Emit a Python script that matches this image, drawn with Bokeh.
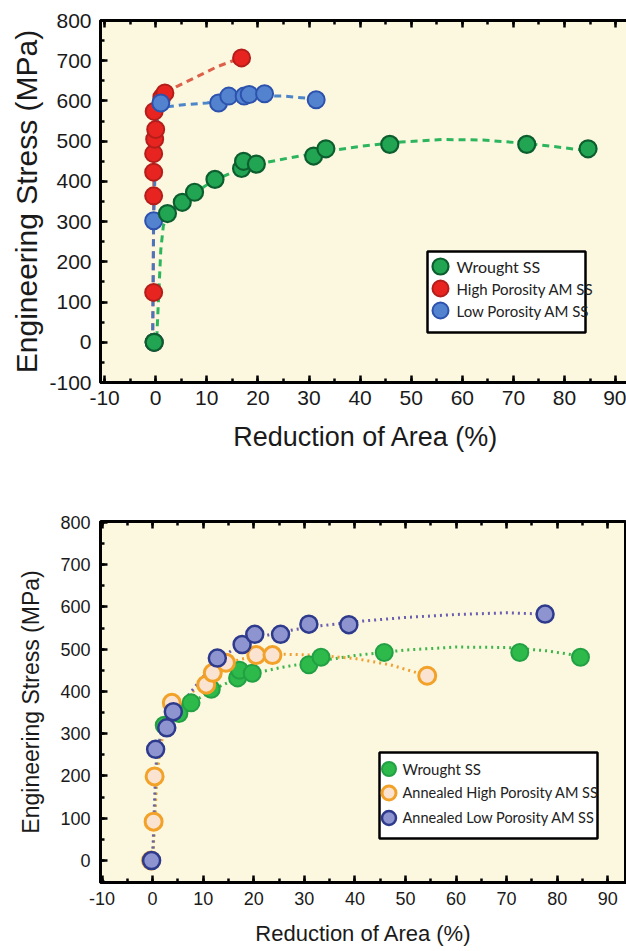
from bokeh.plotting import figure
from bokeh.models import (Range1d, SingleIntervalTicker, LinearAxis, Legend, LegendItem,
                          BoxAnnotation, Column, Label, NumeralTickFormatter)
from bokeh.embed import file_html
from bokeh.resources import INLINE

# ---------------- data ----------------
# Wrought SS (same specimens in both panels)
wrought_x = [-0.3, 2.3, 5.2, 7.6, 11.6, 16.8, 17.2, 19.7, 30.9, 33.3, 45.8, 72.6, 84.6]
wrought_y = [0, 320, 348, 373, 405, 432, 450, 443, 463, 481, 492, 492, 481]

# Top panel: as-built AM
high_x = [-0.3, -0.4, -0.4, -0.4, -0.4, -0.2, 0.0, -0.3, 1.2, 1.8, 16.8]
high_y = [0, 124, 364, 423, 469, 505, 529, 574, 609, 620, 707]
low_x = [-0.3, -0.4, 1.0, 12.3, 14.3, 17.3, 18.3, 21.3, 31.4]
low_y = [0, 302, 595, 595, 612, 612, 616, 618, 603]

# Top panel trend curves
wrought_fit_top_x = [0.2, 0.6, 1.0, 1.5, 2.3, 4, 7, 11, 16, 20, 26, 33, 40, 48, 56, 64, 72, 79, 85]
wrought_fit_top_y = [10, 120, 230, 290, 318, 338, 365, 400, 428, 443, 458, 474, 487, 498, 504, 503, 495, 485, 475]
high_fit_x = [-0.6, -0.5, -0.4, -0.3, 0.0, 0.7, 1.8, 4, 8, 12, 16.8]
high_fit_y = [0, 130, 360, 520, 570, 600, 618, 635, 660, 685, 708]
low_fit_x = [-0.6, -0.4, 0.0, 0.4, 1.0, 2.0, 5, 10, 15, 20, 25, 31.4]
low_fit_y = [0, 300, 480, 560, 578, 585, 590, 595, 605, 612, 612, 605]

# Bottom panel: annealed AM
ann_high_x = [-0.3, 0.2, 0.4, 3.8, 10.6, 11.9, 14.5, 20.5, 23.7, 54.3]
ann_high_y = [0, 92, 199, 373, 416, 444, 468, 486, 486, 437]
ann_low_x = [-0.2, 0.6, 2.8, 4.1, 12.8, 17.7, 20.2, 25.3, 30.9, 38.8, 77.6]
ann_low_y = [0, 263, 314, 352, 479, 511, 535, 535, 559, 558, 583]

# Bottom panel trend curves
wrought_fit_bot_x = [0, 0.4, 0.8, 1.5, 2.5, 5, 8, 12, 16, 20, 26, 33, 40, 50, 60, 70, 78, 85]
wrought_fit_bot_y = [0, 100, 220, 290, 322, 350, 375, 405, 427, 443, 458, 472, 485, 498, 505, 504, 496, 483]
ann_high_fit_x = [0, 0.4, 0.8, 1.5, 3, 5, 8, 11, 14, 17, 21, 26, 32, 40, 47, 54.3]
ann_high_fit_y = [0, 90, 190, 270, 335, 370, 400, 430, 458, 475, 485, 488, 486, 478, 463, 437]
ann_low_fit_x = [0, 0.4, 0.8, 1.5, 3, 4.5, 7, 10, 13, 16, 20, 25, 31, 40, 50, 60, 70, 77.6]
ann_low_fit_y = [0, 150, 250, 290, 318, 348, 390, 435, 475, 500, 525, 540, 552, 565, 575, 582, 586, 583]

labels_top = ["Wrought SS", "High Porosity AM SS", "Low Porosity AM SS"]
labels_bot = ["Wrought SS", "Annealed High Porosity AM SS", "Annealed Low Porosity AM SS"]

BG = "#FCF8E0"
FONT = "Liberation Sans"
LFONT = "Lato"


def style(p, tick_size, xtitle_size, ytitle_size, xstand, ystand, xlstand, ylstand):
    p.background_fill_color = BG
    p.border_fill_color = "white"
    p.outline_line_color = "black"
    p.outline_line_width = 3
    p.grid.visible = False
    for ax in (p.xaxis[0], p.yaxis[0]):
        ax.axis_line_width = 3
        ax.axis_line_color = "black"
        ax.major_tick_in = 7
        ax.major_tick_out = 0
        ax.minor_tick_in = 4
        ax.minor_tick_out = 0
        ax.major_tick_line_width = 2.5
        ax.minor_tick_line_width = 2.5
        ax.major_label_text_font = FONT
        ax.major_label_text_font_size = tick_size
        ax.major_label_text_color = "#1a1a1a"
        ax.axis_label_text_font = FONT
        ax.axis_label_text_font_style = "normal"
        ax.axis_label_text_color = "#1a1a1a"
        ax.formatter = NumeralTickFormatter(format="0")
    p.xaxis[0].axis_label_text_font_size = xtitle_size
    p.yaxis[0].axis_label_text_font_size = ytitle_size
    p.xaxis[0].major_label_standoff = xstand
    p.yaxis[0].major_label_standoff = ystand
    p.xaxis[0].axis_label_standoff = xlstand
    p.yaxis[0].axis_label_standoff = ylstand
    p.xaxis[0].ticker = SingleIntervalTicker(interval=10, num_minor_ticks=2)
    p.yaxis[0].ticker = SingleIntervalTicker(interval=100, num_minor_ticks=2)
    top = LinearAxis(ticker=SingleIntervalTicker(interval=10, num_minor_ticks=2),
                     major_label_text_color=None, major_label_text_font_size="1px",
                     axis_line_color=None,
                     major_tick_in=7, major_tick_out=0, minor_tick_in=4, minor_tick_out=0,
                     major_tick_line_width=2.5, minor_tick_line_width=2.5,
                     major_label_standoff=0)
    p.add_layout(top, "above")


def add_legend(p, renderers, labels, frame_left, frame_bottom, box, circle_x, rows, text_x,
               g, sizes):
    l, r, t, b = box
    p.add_layout(BoxAnnotation(left=l - frame_left, right=r - frame_left,
                               bottom=frame_bottom - b, top=frame_bottom - t,
                               left_units="screen", right_units="screen",
                               bottom_units="screen", top_units="screen",
                               fill_color="white", fill_alpha=1.0,
                               line_color="black", line_alpha=1.0, line_width=2.5,
                               level="annotation"))
    for rr, lab, row, fs in zip(renderers, labels, rows, sizes):
        leg = Legend(items=[LegendItem(label=" ", renderers=[rr])],
                     location=(circle_x - g / 2 - frame_left, frame_bottom - (row + g / 2)),
                     glyph_width=g, glyph_height=g, padding=0, margin=0, spacing=0,
                     label_standoff=0, label_text_font_size="1px",
                     label_text_color=None,
                     background_fill_alpha=0, border_line_color=None)
        p.add_layout(leg, "center")
        p.add_layout(Label(x=text_x - frame_left, y=frame_bottom - row,
                           x_units="screen", y_units="screen", text=lab,
                           text_baseline="middle", text_align="left",
                           text_font=LFONT, text_font_size=fs, text_color="#222222"))


# ---------------- top panel ----------------
p1 = figure(frame_width=531, frame_height=362, min_border_left=95, min_border_right=0,
            min_border_top=20, min_border_bottom=88,
            x_range=Range1d(-10.8, 93.1), y_range=Range1d(-100, 800),
            output_backend="svg", toolbar_location=None)
p1.xaxis.axis_label = "Reduction of Area (%)"
p1.yaxis.axis_label = "Engineering Stress (MPa)"
style(p1, "21px", "27px", "30px", 8, 9, 14, 3)

p1.line(wrought_fit_top_x, wrought_fit_top_y, line_color="#2DB55D", line_width=3, line_dash="7 5")
p1.line(high_fit_x, high_fit_y, line_color="#D9503A", line_width=3, line_dash="7 5", line_alpha=0.9)
p1.line(low_fit_x, low_fit_y, line_color="#3A78C6", line_width=3, line_dash="7 5", line_alpha=0.9)
r_high = p1.scatter(high_x, high_y, size=17, fill_color="#E82420", line_color="#B31E1A", line_width=2)
r_low = p1.scatter(low_x, low_y, size=17, fill_color="#5383CF", line_color="#2D52AE", line_width=2)
r_wr = p1.scatter(wrought_x, wrought_y, size=17, fill_color="#22A553", line_color="#0D5E2E", line_width=2.2)

add_legend(p1, [r_wr, r_high, r_low], labels_top, 95, 382,
           box=(422, 580, 251, 332), circle_x=441, rows=[266, 288, 310], text_x=451,
           g=40, sizes=["16px", "15px", "15px"])

# ---------------- bottom panel ----------------
p2 = figure(frame_width=526, frame_height=361, min_border_left=100, min_border_right=0,
            min_border_top=51, min_border_bottom=69,
            x_range=Range1d(-10.3, 93.7), y_range=Range1d(-52, 802),
            output_backend="svg", toolbar_location=None)
p2.xaxis.axis_label = "Reduction of Area (%)"
p2.yaxis.axis_label = "Engineering Stress (MPa)"
style(p2, "18px", "22px", "23px", 9, 10, 13, 13)

p2.line(wrought_fit_bot_x, wrought_fit_bot_y, line_color="#3DB54A", line_width=3, line_dash="2 4")
p2.line(ann_high_fit_x, ann_high_fit_y, line_color="#F0A030", line_width=3, line_dash="2 4")
p2.line(ann_low_fit_x, ann_low_fit_y, line_color="#6C5FAE", line_width=3, line_dash="2 4")
q_wr = p2.scatter(wrought_x, wrought_y, size=17, fill_color="#2DBA4B", line_color="#22A043", line_width=2)
q_high = p2.scatter(ann_high_x, ann_high_y, size=17, fill_color="#FBE3D2", line_color="#F2A228", line_width=3)
q_low = p2.scatter(ann_low_x, ann_low_y, size=17, fill_color="#8E94D0", line_color="#2E3A8C", line_width=2.5)

add_legend(p2, [q_wr, q_high, q_low], labels_bot, 100, 882,
           box=(379, 597, 752, 838), circle_x=388, rows=[768, 792, 817], text_x=402,
           g=35, sizes=["15px", "14.5px", "14.5px"])

layout = Column(children=[p1, p2], spacing=0)

with open("out.html", "w") as f:
    f.write(file_html(layout, INLINE))
